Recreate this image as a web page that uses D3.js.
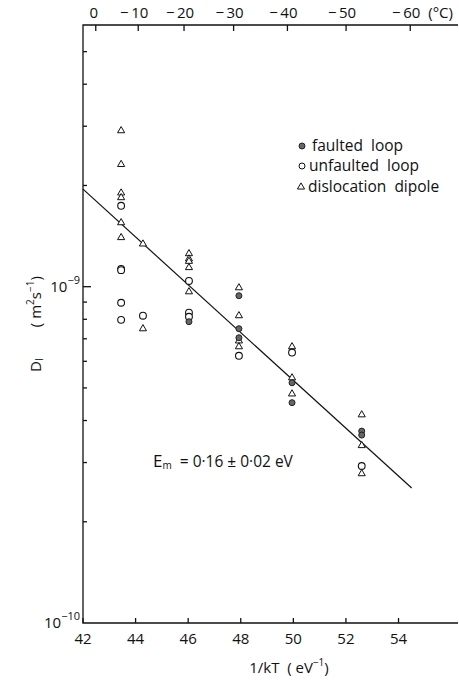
<html lang="en">
<head>
  <meta charset="UTF-8"/>
  <title>Di vs 1/kT</title>
  <script src="https://d3js.org/d3.v7.min.js"></script>
</head>
<style>
body {
  margin: 0;
  background: #fff;
  font-family: 'Open Sans', sans-serif;
}
svg {
  display: block;
}
text {
  fill: #111;
  white-space: pre;
}
.tick-label {
  font-size: 15px;
}
.legend {
  font-size: 15.5px;
}
.frame, .tick {
  stroke: #111;
  stroke-width: 1.3;
}
</style>
<body>
<svg width="459" height="680"></svg>
<script>
  // columns of 1/kT (eV^-1) where measurements were taken
  const faultedX = [46.03, 47.93, 47.93, 47.93, 49.95, 49.95, 52.6, 52.6];
  const faultedY = [7.87e-10, 9.4e-10, 7.5e-10, 7.05e-10, 5.18e-10, 4.52e-10, 3.72e-10, 3.62e-10];

  const unfaultedX = [43.45, 43.45, 43.45, 43.45, 43.45, 44.28, 46.03, 46.03, 46.03, 47.93, 49.95, 52.6];
  const unfaultedY = [1.74e-9, 1.13e-9, 1.12e-9, 8.96e-10, 7.97e-10, 8.2e-10, 1.04e-9, 8.37e-10, 8.14e-10, 6.23e-10, 6.37e-10, 2.93e-10];

  const dipoleX = [43.45, 43.45, 43.45, 43.45, 43.45, 43.45, 44.28, 44.28,
                   46.03, 46.03, 46.03, 46.03, 46.03, 47.93, 47.93, 47.93, 47.93,
                   49.95, 49.95, 49.95, 52.6, 52.6, 52.6];
  const dipoleY = [2.91e-9, 2.31e-9, 1.90e-9, 1.84e-9, 1.55e-9, 1.40e-9, 1.34e-9, 7.5e-10,
                   1.254e-9, 1.21e-9, 1.19e-9, 1.14e-9, 9.66e-10, 9.93e-10, 8.2e-10, 6.9e-10, 6.63e-10,
                   6.63e-10, 5.36e-10, 4.8e-10, 4.16e-10, 3.37e-10, 2.78e-10];

  // fitted Arrhenius line
  const fitX = [42, 54.5];
  const fitY = [1.95e-9, 2.52e-10];

  const bottomTicks = [42, 44, 46, 48, 50, 52, 54];
  const celsiusTicks = [0, -10, -20, -30, -40, -50, -60];
  const yMinorTicks = [2e-10, 3e-10, 4e-10, 5e-10, 6e-10, 7e-10, 8e-10, 9e-10, 2e-9, 3e-9, 4e-9, 5e-9];
  const yMajorTicks = [1e-9];

  const kB = 8.617e-5;

  const svg = d3.select('svg');

  const x = d3.scaleLinear()
    .domain([42, 56.3])
    .range([83, 459]);

  const y = d3.scaleLog()
    .domain([1e-10, 6e-9])
    .range([623, 25]);

  const x0 = x(42), x1 = 458;
  const yTop = y(6e-9), yBot = y(1e-10);

  // frame: left, top, bottom
  svg.append('path')
    .attr('class', 'frame')
    .attr('fill', 'none')
    .attr('d', `M${x1},${yTop} H${x0} V${yBot} H${x1}`);

  // bottom ticks + labels
  svg.selectAll('.btick')
    .data(bottomTicks)
    .enter()
    .append('line')
    .attr('class', 'tick')
    .attr('x1', d => x(d)).attr('x2', d => x(d))
    .attr('y1', yBot).attr('y2', yBot - 5);

  svg.selectAll('.blabel')
    .data(bottomTicks)
    .enter()
    .append('text')
    .attr('class', 'tick-label')
    .attr('x', d => x(d))
    .attr('y', 644)
    .attr('text-anchor', 'middle')
    .text(d => d);

  // top axis in degrees C
  const cToX = c => x(1 / (kB * (c + 273.15)));

  svg.selectAll('.ttick')
    .data(celsiusTicks)
    .enter()
    .append('line')
    .attr('class', 'tick')
    .attr('x1', d => cToX(d)).attr('x2', d => cToX(d))
    .attr('y1', yTop).attr('y2', yTop + 6);

  svg.selectAll('.tlabel')
    .data(celsiusTicks)
    .enter()
    .append('text')
    .attr('class', 'tick-label')
    .attr('x', d => cToX(d) - (d === 0 ? 2 : 4))
    .attr('y', 18)
    .attr('text-anchor', 'middle')
    .text(d => d === 0 ? '0' : '\u2212\u2009' + Math.abs(d));

  svg.append('text')
    .attr('class', 'tick-label')
    .attr('x', cToX(-60) + 18)
    .attr('y', 18)
    .text('(\u00b0C)');

  // left ticks
  svg.selectAll('.ytick')
    .data(yMinorTicks)
    .enter()
    .append('line')
    .attr('class', 'tick')
    .attr('x1', x0).attr('x2', x0 + 4)
    .attr('y1', d => y(d)).attr('y2', d => y(d));

  svg.selectAll('.ymajor')
    .data(yMajorTicks)
    .enter()
    .append('line')
    .attr('class', 'tick')
    .attr('x1', x0).attr('x2', x0 + 8)
    .attr('y1', d => y(d)).attr('y2', d => y(d));

  // y labels 10^-9, 10^-10
  const powLabel = (val, exp) => {
    const t = svg.append('text')
      .attr('class', 'tick-label')
      .attr('x', 80)
      .attr('y', y(val) + 5)
      .attr('text-anchor', 'end');
    t.append('tspan').text('10');
    t.append('tspan').attr('dy', -8).attr('font-size', 11).text('\u2212' + exp);
  };
  powLabel(1e-9, '9');
  powLabel(1e-10, '10');

  // fit line
  svg.append('line')
    .attr('stroke', '#111')
    .attr('stroke-width', 1.2)
    .attr('x1', x(fitX[0])).attr('y1', y(fitY[0]))
    .attr('x2', x(fitX[1])).attr('y2', y(fitY[1]));

  const tri = d3.symbol().type(d3.symbolTriangle).size(22);

  // dislocation dipoles
  svg.selectAll('.dipole')
    .data(dipoleX.map((d, i) => [d, dipoleY[i]]))
    .enter()
    .append('path')
    .attr('d', tri)
    .attr('transform', d => `translate(${x(d[0])},${y(d[1])})`)
    .attr('fill', '#fff')
    .attr('stroke', '#111')
    .attr('stroke-width', 1);

  // unfaulted loops
  svg.selectAll('.unfaulted')
    .data(unfaultedX.map((d, i) => [d, unfaultedY[i]]))
    .enter()
    .append('circle')
    .attr('cx', d => x(d[0]))
    .attr('cy', d => y(d[1]))
    .attr('r', 3.4)
    .attr('fill', '#fff')
    .attr('stroke', '#111')
    .attr('stroke-width', 1.1);

  // faulted loops
  svg.selectAll('.faulted')
    .data(faultedX.map((d, i) => [d, faultedY[i]]))
    .enter()
    .append('circle')
    .attr('cx', d => x(d[0]))
    .attr('cy', d => y(d[1]))
    .attr('r', 3)
    .attr('fill', '#666')
    .attr('stroke', '#222')
    .attr('stroke-width', 1);

  // legend
  svg.append('circle')
    .attr('cx', 302).attr('cy', 146).attr('r', 3)
    .attr('fill', '#666').attr('stroke', '#222');
  svg.append('text').attr('class', 'legend').attr('x', 312).attr('y', 151).text('faulted  loop');

  svg.append('circle')
    .attr('cx', 302).attr('cy', 166).attr('r', 3)
    .attr('fill', '#fff').attr('stroke', '#111');
  svg.append('text').attr('class', 'legend').attr('x', 309).attr('y', 171).text('unfaulted  loop');

  svg.append('path')
    .attr('d', tri)
    .attr('transform', 'translate(301,187)')
    .attr('fill', '#fff').attr('stroke', '#111');
  svg.append('text').attr('class', 'legend').attr('x', 308).attr('y', 192).text('dislocation  dipole');

  // activation energy
  const em = svg.append('text')
    .attr('class', 'legend')
    .attr('x', 153)
    .attr('y', 467);
  em.append('tspan').attr('font-size', 17).text('E');
  em.append('tspan').attr('font-size', 10).attr('dy', 2).text('m');
  em.append('tspan').attr('dy', -2).text('  = 0\u00b716 \u00b1 0\u00b702 eV');

  // axis titles
  const xt = svg.append('text')
    .attr('class', 'tick-label')
    .attr('font-size', 16)
    .attr('x', 289)
    .attr('y', 673)
    .attr('text-anchor', 'middle');
  xt.append('tspan').text('1/kT  ( eV');
  xt.append('tspan').attr('font-size', 10).attr('dy', -7).text('\u22121');
  xt.append('tspan').attr('dy', 7).text(')');

  const yt = svg.append('text')
    .attr('class', 'tick-label')
    .attr('transform', 'translate(41,372) rotate(-90)');
  yt.append('tspan').text('D');
  yt.append('tspan').attr('font-size', 10).attr('dy', 2).text('I');
  yt.append('tspan').attr('dy', -2).text('        ( m');
  yt.append('tspan').attr('font-size', 10).attr('dy', -7).text('2');
  yt.append('tspan').attr('dy', 7).text('s');
  yt.append('tspan').attr('font-size', 10).attr('dy', -7).text('\u22121');
  yt.append('tspan').attr('dy', 7).text(')');
</script>
</body>
</html>
